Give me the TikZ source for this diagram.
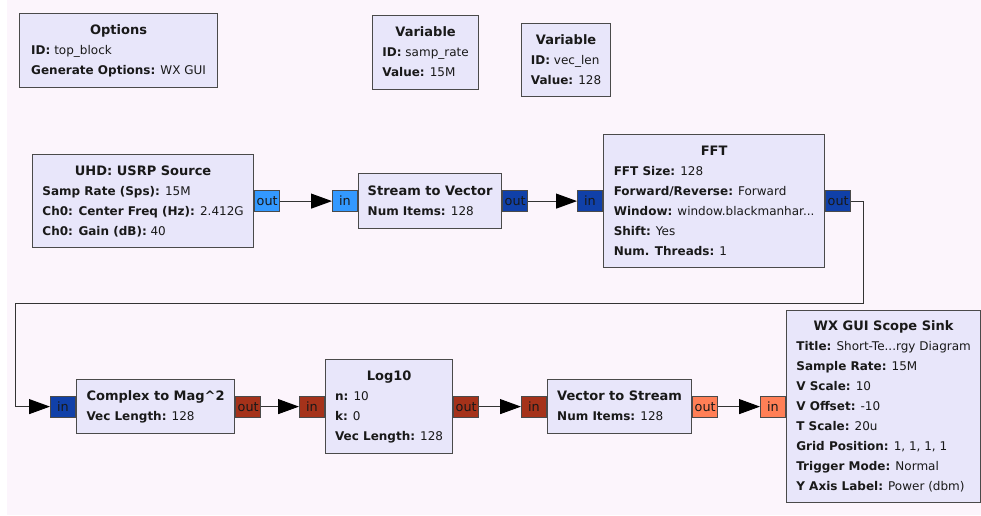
\documentclass[tikz,border=0pt]{standalone}
\usepackage{fontspec}
\setmainfont{DejaVu Sans}
\usetikzlibrary{arrows.meta, positioning}

\definecolor{bgc}{HTML}{FCF5FC}
\definecolor{blkfill}{HTML}{E8E6FA}
\definecolor{bord}{HTML}{4A4A4A}
\definecolor{cplx}{HTML}{3399FF}
\definecolor{cvec}{HTML}{1040A8}
\definecolor{fvec}{HTML}{A5321A}
\definecolor{fstr}{HTML}{FF7F56}

\newcommand{\ttl}[1]{\multicolumn{1}{@{}c@{}}{\fontsize{13}{20}\selectfont\bfseries #1}}

\begin{document}
\begin{tikzpicture}[x=1pt, y=-1pt, font=\fontsize{12}{20}\selectfont, text=black!90,
  blk/.style={draw=bord, fill=blkfill, line width=1.2pt, anchor=north west, inner sep=0pt},
  port/.style={draw=bord, line width=1pt, minimum width=25pt, minimum height=21pt, inner sep=0pt, font=\fontsize{12.8}{14}\selectfont},
  conn/.style={draw=black!80, line width=1pt, -{Triangle[length=21pt, width=15pt, fill=black, color=black]}}]
\useasboundingbox (0,0) rectangle (981,515);
\fill[bgc] (7,0) rectangle (981,515);

% variables and options
\node[blk, minimum width=198pt, minimum height=74pt] (opts) at (19,13)
  {\begin{tabular}{@{}l@{}}\ttl{Options}\\\textbf{ID:} top\_block\\\textbf{Generate Options:} WX GUI\end{tabular}};
\node[blk, minimum width=106pt, minimum height=74pt] (samprate) at (372,15)
  {\begin{tabular}{@{}l@{}}\ttl{Variable}\\\textbf{ID:} samp\_rate\\\textbf{Value:} 15M\end{tabular}};
\node[blk, minimum width=89pt, minimum height=73pt] (veclen) at (521,23)
  {\begin{tabular}{@{}l@{}}\ttl{Variable}\\\textbf{ID:} vec\_len\\\textbf{Value:} 128\end{tabular}};

% top row
\node[blk, minimum width=221pt, minimum height=93pt] (usrp) at (32,154)
  {\begin{tabular}{@{}l@{}}\ttl{UHD: USRP Source}\\\textbf{Samp Rate (Sps):} 15M\\\textbf{Ch0: Center Freq (Hz):} 2.412G\\\textbf{Ch0: Gain (dB):} 40\end{tabular}};
\node[blk, minimum width=143pt, minimum height=55pt] (stv) at (358,173)
  {\begin{tabular}{@{}l@{}}\ttl{Stream to Vector}\\\textbf{Num Items:} 128\end{tabular}};
\node[blk, minimum width=221pt, minimum height=133pt] (fft) at (603,134)
  {\begin{tabular}{@{}l@{}}\ttl{FFT}\\\textbf{FFT Size:} 128\\\textbf{Forward/Reverse:} Forward\\\textbf{Window:} window.blackmanhar...\\\textbf{Shift:} Yes\\\textbf{Num. Threads:} 1\end{tabular}};

% bottom row
\node[blk, minimum width=158pt, minimum height=54pt] (cmag) at (76,379)
  {\begin{tabular}{@{}l@{}}\ttl{Complex to Mag\textasciicircum2}\\\textbf{Vec Length:} 128\end{tabular}};
\node[blk, minimum width=127pt, minimum height=94pt] (logten) at (325,359)
  {\begin{tabular}{@{}l@{}}\ttl{Log10}\\\textbf{n:} 10\\\textbf{k:} 0\\\textbf{Vec Length:} 128\end{tabular}};
\node[blk, minimum width=144pt, minimum height=54pt] (vts) at (547,379)
  {\begin{tabular}{@{}l@{}}\ttl{Vector to Stream}\\\textbf{Num Items:} 128\end{tabular}};
\node[blk, minimum width=194pt, minimum height=192pt] (scope) at (786,310)
  {\begin{tabular}{@{}l@{}}\ttl{WX GUI Scope Sink}\\\textbf{Title:} Short-Te...rgy Diagram\\\textbf{Sample Rate:} 15M\\\textbf{V Scale:} 10\\\textbf{V Offset:} -10\\\textbf{T Scale:} 20u\\\textbf{Grid Position:} 1, 1, 1, 1\\\textbf{Trigger Mode:} Normal\\\textbf{Y Axis Label:} Power (dbm)\end{tabular}};

% ports
\node[port, fill=cplx, right=0pt of usrp] (usrpout) {out};
\node[port, fill=cplx, left=0pt of stv] (stvin) {in};
\node[port, fill=cvec, right=0pt of stv] (stvout) {out};
\node[port, fill=cvec, left=0pt of fft] (fftin) {in};
\node[port, fill=cvec, right=0pt of fft] (fftout) {out};
\node[port, fill=cvec, left=0pt of cmag] (cmagin) {in};
\node[port, fill=fvec, right=0pt of cmag] (cmagout) {out};
\node[port, fill=fvec, left=0pt of logten] (login) {in};
\node[port, fill=fvec, right=0pt of logten] (logout) {out};
\node[port, fill=fvec, left=0pt of vts] (vtsin) {in};
\node[port, fill=fstr, right=0pt of vts] (vtsout) {out};
\node[port, fill=fstr, left=0pt of scope] (scopein) {in};

% connections
\coordinate (loopr) at (863,303);
\coordinate (loopl) at (15,303);
\draw[conn] (usrpout) -- (stvin);
\draw[conn] (stvout) -- (fftin);
\draw[conn] (fftout) -| (loopr) -- (loopl) |- (cmagin);
\draw[conn] (cmagout) -- (login);
\draw[conn] (logout) -- (vtsin);
\draw[conn] (vtsout) -- (scopein);
\end{tikzpicture}
\end{document}
